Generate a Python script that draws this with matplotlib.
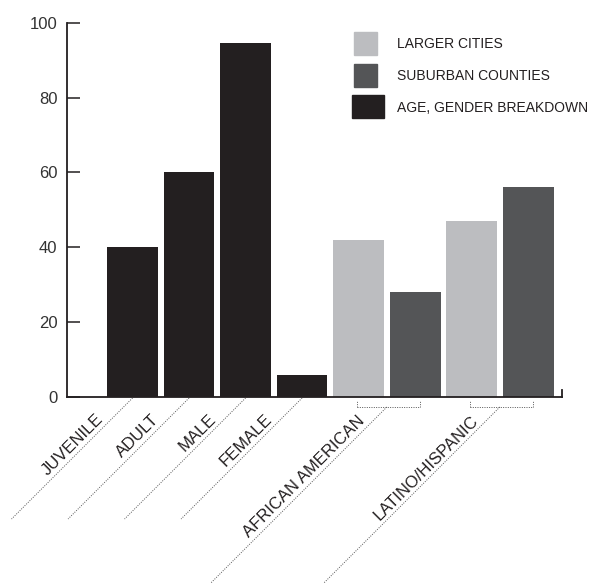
import matplotlib.pyplot as plt
import matplotlib.patches as mpatches
import matplotlib.transforms as mtransforms
from matplotlib.lines import Line2D
from matplotlib.legend_handler import HandlerPatch

# data
categories = ["JUVENILE", "ADULT", "MALE", "FEMALE", "AFRICAN AMERICAN", "LATINO/HISPANIC"]
age_gender = [40, 60, 94.5, 6]
larger_cities = [42, 47]
suburban = [28, 56]
yticks = [0, 20, 40, 60, 80, 100]

c_light = "#bcbdc0"
c_dark = "#545557"
c_black = "#231f20"
line_c = "#231f20"
lead_c = "#555555"
dots = (0, (1, 1.4))

plt.rcParams["font.family"] = ["Liberation Sans", "DejaVu Sans"]

fig = plt.figure(figsize=(6.05, 5.87), dpi=100)
ax = fig.add_axes([67 / 605, 190 / 587, 495 / 605, 374.3 / 587])

# bar positions: 4 single bars, then 2 groups of 2
x_single = list(range(len(age_gender)))
x_large = [4, 6]
x_sub = [5, 7]
w = 0.9
ax.bar(x_single, age_gender, width=w, color=c_black, linewidth=0)
ax.bar(x_large, larger_cities, width=w, color=c_light, linewidth=0)
ax.bar(x_sub, suburban, width=w, color=c_dark, linewidth=0)

ax.set_xlim(-1.16, 7.6)
ax.set_ylim(0, 100)
ax.set_yticks(yticks)
ax.set_xticks([])
ax.tick_params(axis="y", direction="in", length=9.5, width=1.1, color=line_c,
               pad=7, labelsize=12, labelcolor="#333333")
for s in ["top", "right"]:
    ax.spines[s].set_visible(False)
for s in ["left", "bottom"]:
    ax.spines[s].set_color(line_c)
    ax.spines[s].set_linewidth(1.3)

# small upturn at right end of baseline
bt = mtransforms.blended_transform_factory(ax.transAxes, ax.transData)
ax.plot([1, 1], [0, 1.9], transform=bt, color=line_c, lw=1.3, clip_on=False)

# leader lines (45 degrees, in pixels) and labels
leader_x = x_single + [(x_large[0] + x_sub[0]) / 2, (x_large[1] + x_sub[1]) / 2]
r2 = 2 ** 0.5
ident = mtransforms.IdentityTransform()
for i, (lab, xc) in enumerate(zip(categories, leader_x)):
    grouped = i >= len(x_single)
    y0 = -10 if grouped else -1   # px below baseline
    L = 176 if grouped else 121    # px in each direction
    along = 25 if grouped else 36
    px, py = ax.transData.transform((xc, 0))
    fig.add_artist(Line2D([px, px - L], [py + y0, py + y0 - L], transform=ident,
                          color=lead_c, lw=0.7, ls=dots))
    off = 5
    dx = -along / r2 - off / r2
    dy = y0 - along / r2 + off / r2
    ax.annotate(lab, xy=(xc, 0), xytext=(dx, dy), textcoords="offset pixels",
                rotation=45, rotation_mode="anchor", ha="right", va="baseline",
                fontsize=12, color="#231f20", annotation_clip=False)

# group brackets
tr = mtransforms.offset_copy(ax.transData, fig=fig, x=0, y=-10, units="dots")
for xa, xb in zip(x_large, x_sub):
    ax.plot([xa - 0.03, xb + 0.08], [0, 0], transform=tr, color=lead_c,
            lw=0.7, ls=dots, clip_on=False)
    for xe in (xa - 0.03, xb + 0.08):
        ax.plot([xe, xe], [0, 1.9], transform=tr, color=lead_c,
                lw=0.7, ls=dots, clip_on=False)


def make_patch(wide=False):
    def func(legend, orig_handle, xdescent, ydescent, width, height, fontsize):
        H = 16.6
        cy = -ydescent + height / 2
        if wide:
            return mpatches.Rectangle((-xdescent - 1.44, cy - H / 2), width + 6.5, H)
        return mpatches.Rectangle((-xdescent, cy - H / 2), width, H)
    return func


h_large = mpatches.Patch(color=c_light, label="LARGER CITIES")
h_sub = mpatches.Patch(color=c_dark, label="SUBURBAN COUNTIES")
h_age = mpatches.Patch(color=c_black, label="AGE, GENDER BREAKDOWN")
fig.legend(handles=[h_large, h_sub, h_age], loc="upper left",
           bbox_to_anchor=(354 / 605, 1 - 37.5 / 587), frameon=False,
           fontsize=10, borderpad=0, borderaxespad=0,
           handlelength=1.656, handleheight=0.7, handletextpad=1.45,
           labelspacing=1.26, labelcolor="#231f20",
           handler_map={h_large: HandlerPatch(patch_func=make_patch()),
                        h_sub: HandlerPatch(patch_func=make_patch()),
                        h_age: HandlerPatch(patch_func=make_patch(True))})

fig.savefig("out.png", dpi=100)
